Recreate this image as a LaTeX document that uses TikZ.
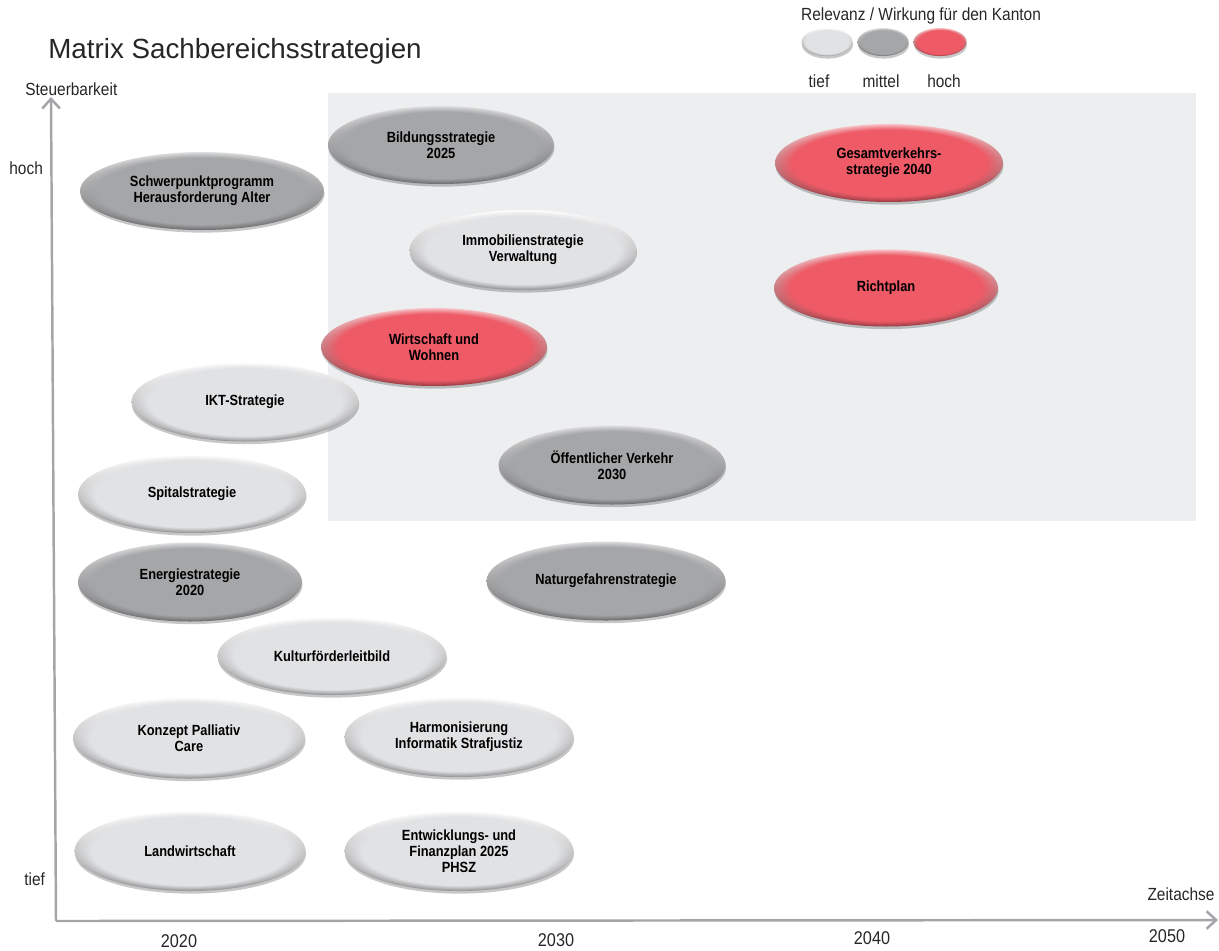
\documentclass[tikz,border=0pt]{standalone}
\usepackage{fontspec}
\setmainfont{Liberation Sans}
\newfontfamily\condf[FakeStretch=0.88]{Liberation Sans}
\newfontfamily\ellf[FakeStretch=0.87]{Liberation Sans}
\usetikzlibrary{shapes.geometric,shadows,fadings,arrows.meta}
\definecolor{lbase}{HTML}{E1E2E4}
\definecolor{gbase}{HTML}{A5A6A8}
\definecolor{rbase}{HTML}{EE5A66}
\definecolor{bgrect}{HTML}{EDEEF0}
\definecolor{axisc}{HTML}{A3A5A8}
\definecolor{txt}{HTML}{262626}
\begin{document}
\begin{tikzpicture}[x=0.02cm,y=-0.02cm,
  lbl/.style={font=\condf\fontsize{10}{12}\selectfont, text=txt, inner sep=0},
  yr/.style={font=\condf\fontsize{10.5}{12}\selectfont, text=txt, inner sep=0},
  strat/.style 2 args={ellipse, inner sep=0, align=center,
    minimum width=#1*0.02cm, minimum height=#2*0.02cm,
    font=\ellf\bfseries\fontsize{8.4}{9.2}\selectfont, text=black,
    drop shadow={shadow xshift=0.3pt, shadow yshift=-1.5pt, opacity=0.22, fill=black}},
  tiefc/.style={top color=white, middle color=lbase, bottom color=lbase!62!black,
    postaction={fill=lbase, path fading=circle with fuzzy edge 15 percent}},
  mittelc/.style={top color=gbase!35!white, middle color=gbase, bottom color=gbase!62!black,
    postaction={fill=gbase, path fading=circle with fuzzy edge 15 percent}},
  hochc/.style={top color=rbase!35!white, middle color=rbase, bottom color=rbase!62!black,
    postaction={fill=rbase, path fading=circle with fuzzy edge 15 percent}},
  axisl/.style={draw=axisc, line width=1.4pt, -{Straight Barb[length=5.5pt,width=10pt,line width=1.4pt]}}
]
\useasboundingbox (0,0) rectangle (1219,950);
% background area
\fill[bgrect] (328,93) rectangle (1196,521);
% title
\node[anchor=base west, inner sep=0, text=txt, font=\fontsize{15.8}{19}\selectfont] (title) at (48,58) {Matrix Sachbereichsstrategien};
% legend
\node[lbl, anchor=base] (legt) at (921,20) {Relevanz / Wirkung für den Kanton};
\node[strat={51}{28}, tiefc] (leg1) at (827,42) {};
\node[strat={51}{28}, mittelc] (leg2) at (883,42) {};
\node[strat={53}{28}, hochc] (leg3) at (940,42) {};
\node[lbl, anchor=base] (legl1) at (819,87) {tief};
\node[lbl, anchor=base] (legl2) at (881,87) {mittel};
\node[lbl, anchor=base] (legl3) at (944,87) {hoch};
% axes
\coordinate (o) at (56,921);
\coordinate (yt) at (51,97);
\coordinate (xe) at (1218,920);
\draw[axisl] (o) -- (yt);
\draw[axisl] (o) -- (xe);
\node[lbl, anchor=base west] (ylab) at (25,95) {Steuerbarkeit};
\node[lbl, anchor=base west] (yhoch) at (9,174) {hoch};
\node[lbl, anchor=base west] (ytief) at (24,885) {tief};
\node[lbl, anchor=base] (xlab) at (1181,900) {Zeitachse};
\node[yr, anchor=base] (y2020) at (179,947) {2020};
\node[yr, anchor=base] (y2030) at (556,946) {2030};
\node[yr, anchor=base] (y2040) at (872,944) {2040};
\node[yr, anchor=base] (y2050) at (1167,942) {2050};
% strategies
\node[strat={226}{78}, mittelc] (bild) at (441,145) {Bildungsstrategie\\2025};
\node[strat={228}{78}, hochc] (gesamt) at (889,163) {Gesamtverkehrs-\\strategie 2040};
\node[strat={244}{78}, mittelc] (schwer) at (202,191) {Schwerpunktprogramm\\Herausforderung Alter};
\node[strat={227}{80}, tiefc] (immo) at (523,250) {Immobilienstrategie\\Verwaltung};
\node[strat={224}{77}, hochc] (richt) at (886,288) {Richtplan};
\node[strat={226}{78}, hochc] (wirt) at (434,347) {Wirtschaft und\\Wohnen};
\node[strat={227}{79}, tiefc] (ikt) at (245,402) {IKT-Strategie};
\node[strat={227}{79}, mittelc] (oev) at (612,465) {Öffentlicher Verkehr\\2030};
\node[strat={228}{78}, tiefc] (spital) at (192,494) {Spitalstrategie};
\node[strat={224}{79}, mittelc] (energie) at (190,582) {Energiestrategie\\2020};
\node[strat={239}{79}, mittelc] (natur) at (606,581) {Naturgefahrenstrategie};
\node[strat={229}{78}, tiefc] (kultur) at (332,656) {Kulturförderleitbild};
\node[strat={232}{81}, tiefc] (palli) at (189,738) {Konzept Palliativ\\Care};
\node[strat={229}{80}, tiefc] (harm) at (459,737) {Harmonisierung\\Informatik Strafjustiz};
\node[strat={231}{80}, tiefc] (land) at (190,851) {Landwirtschaft};
\node[strat={229}{80}, tiefc] (entw) at (459,851) {Entwicklungs- und\\Finanzplan 2025\\PHSZ};
\end{tikzpicture}
\end{document}
